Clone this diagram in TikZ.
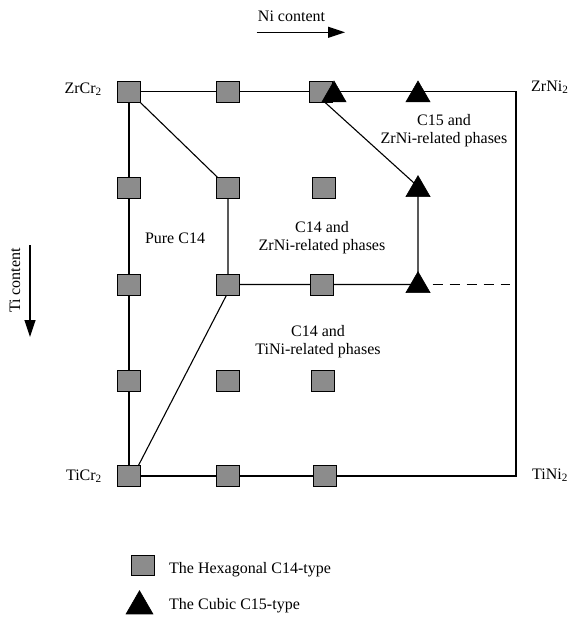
\documentclass[tikz,border=0pt]{standalone}
\usepackage{fontspec}
\setmainfont{Liberation Serif}
\usetikzlibrary{shapes.geometric,arrows.meta,backgrounds}
\begin{document}
\begin{tikzpicture}[x=1pt,y=-1pt,
  lbl/.style={inner sep=0pt,font=\fontsize{16}{18}\selectfont},
  sq/.style={draw=black,line width=1pt,fill=black!45,minimum width=23pt,minimum height=21pt,inner sep=0pt},
  tri/.style={regular polygon,regular polygon sides=3,fill=black,draw=black,line width=0.6pt,minimum size=27.8pt,inner sep=0pt},
  ln/.style={line width=1.1pt},
  axarrow/.style={line width=1.2pt,-{Triangle[length=17pt,width=11pt]}}]
\useasboundingbox (0,0) rectangle (569,618);

% squares
\node[sq] (s11) at (129,91.5) {};
\node[sq] (s12) at (228,91.5) {};
\node[sq] (s13) at (321,91.5) {};
\node[sq] (s21) at (129,187.5) {};
\node[sq] (s22) at (228,187.5) {};
\node[sq] (s23) at (324,187.5) {};
\node[sq] (s31) at (129,284.5) {};
\node[sq] (s32) at (228,284.5) {};
\node[sq] (s33) at (322,284.5) {};
\node[sq] (s41) at (129,381) {};
\node[sq] (s42) at (228,381) {};
\node[sq] (s43) at (323,381) {};
\node[sq] (s51) at (129,476) {};
\node[sq] (s52) at (228,476) {};
\node[sq] (s53) at (325,476) {};

% triangles
\node[tri] (t1) at (334,94.9) {};
\node[tri] (t2) at (418,94.9) {};
\node[tri] (t3) at (418,189.6) {};
\node[tri] (t4) at (418,285.6) {};

\coordinate (cTR) at (516,91.5);
\coordinate (cBR) at (516,476);
\coordinate (cD) at (510,284.5);

\begin{scope}[on background layer]
  \draw[ln] (s11.center) -- (cTR) -- (cBR) -- (s51.center) -- cycle;
  \draw[ln] (s11.center) -- (s22.center) -- (s32.center) -- (s33.center) -- (s33.center -| t4.center);
  \draw[ln] ([xshift=4pt]s32.center) -- ([xshift=4pt]s51.center);
  \draw[ln] ([xshift=-8pt]s13.center) -- ([yshift=3pt]t3.center) -- (t4.center);
\end{scope}
\draw[ln,dash pattern=on 10pt off 7pt] (t4.corner 3 |- s33.center) ++(2pt,0) -- (cD);

% corner labels
\node[lbl,anchor=base east] (zrcr) at (102,93.3) {ZrCr\textsubscript{2}};
\node[lbl,anchor=base east] (ticr) at (102,480) {TiCr\textsubscript{2}};
\node[lbl,anchor=base west] (zrni) at (531,91) {ZrNi\textsubscript{2}};
\node[lbl,anchor=base west] (tini) at (532,479) {TiNi\textsubscript{2}};

% region labels (anchor = baseline of last line)
\node[lbl,anchor=base] (pure) at (175,243) {Pure C14};
\node[lbl,anchor=base,align=center] (rz) at (322,250) {C14 and\\ZrNi-related phases};
\node[lbl,anchor=base,align=center] (rc) at (444,143.5) {C15 and\\ZrNi-related phases};
\node[lbl,anchor=base,align=center] (rt) at (318,354) {C14 and\\TiNi-related phases};

% axes
\node[lbl,anchor=base] (ni) at (291.5,21.7) {Ni content};
\coordinate (na) at (256.7,32.3);
\coordinate (nb) at (345,32.3);
\draw[axarrow] (na) -- (nb);
\node[lbl,anchor=base,rotate=90] (ti) at (20,280.5) {Ti content};
\coordinate (ta) at (30,245);
\coordinate (tb) at (30,337);
\draw[axarrow] (ta) -- (tb);

% legend
\node[sq,minimum height=20pt] (ls) at (143.3,565.5) {};
\node[tri,minimum size=31pt] (lt) at (139.5,606.2) {};
\node[lbl,anchor=base west] (lst) at (169,573.3) {The Hexagonal C14-type};
\node[lbl,anchor=base west] (ltt) at (169,609.3) {The Cubic C15-type};
\end{tikzpicture}
\end{document}
